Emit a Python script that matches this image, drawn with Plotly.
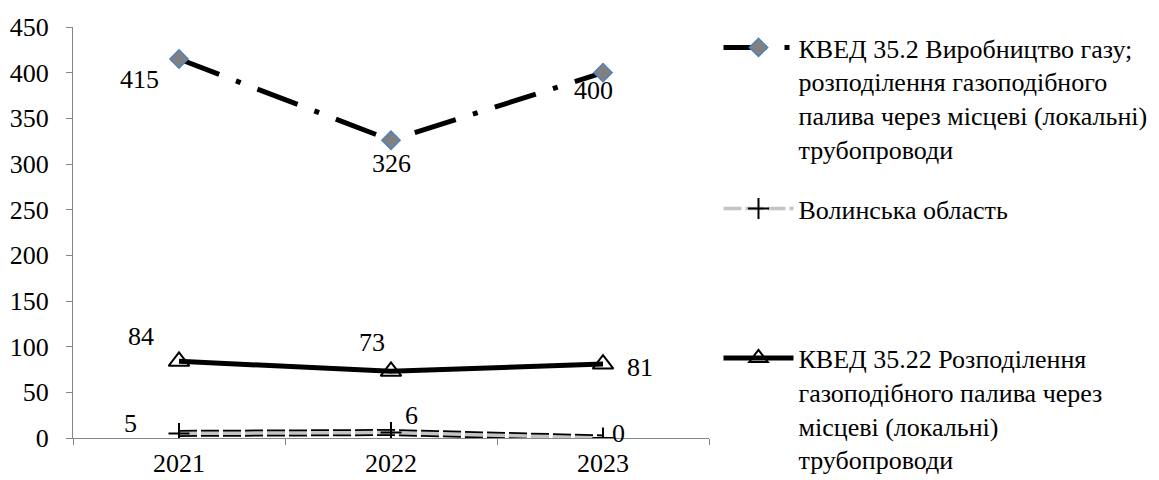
import plotly.graph_objects as go

years = ["2021", "2022", "2023"]
kved_352 = [415, 326, 400]
volyn = [5, 6, 0]
kved_3522 = [84, 73, 81]

name_352 = "КВЕД 35.2 Виробництво газу;<br>розподілення газоподібного<br>палива через місцеві (локальні)<br>трубопроводи"
name_volyn = "Волинська область"
name_3522 = "КВЕД 35.22 Розподілення<br>газоподібного палива через<br>місцеві (локальні)<br>трубопроводи"

y_ticks = [0, 50, 100, 150, 200, 250, 300, 350, 400, 450]

FONT = "Liberation Serif, Times New Roman, serif"
FS = 26

fig = go.Figure()

fig.add_trace(go.Scatter(
    x=years, y=kved_352, name=name_352, mode="lines+markers",
    line=dict(color="black", width=5, dash="43px,18px,5px,18px"),
    marker=dict(symbol="diamond", size=14, color="#808080",
                line=dict(color="#4f81bd", width=1.5)),
    legend="legend",
))

fig.add_trace(go.Scatter(
    x=years, y=volyn, mode="lines", showlegend=False,
    line=dict(color="black", width=7, dash="18px,4px"),
    hoverinfo="skip",
))
fig.add_trace(go.Scatter(
    x=years, y=volyn, name=name_volyn, mode="lines+markers",
    line=dict(color="#c4c4c4", width=3.5, dash="18px,4px"),
    marker=dict(symbol="cross-thin", size=15, color="black",
                line=dict(color="black", width=2)),
    legend="legend2",
))

fig.add_trace(go.Scatter(
    x=years, y=kved_3522, name=name_3522, mode="lines+markers",
    line=dict(color="black", width=5),
    marker=dict(symbol="triangle-up-open", size=18, color="black",
                line=dict(color="black", width=2)),
    legend="legend3",
))

# data labels (category axis: annotation x uses the category index)
label_offsets = {
    "kved_352": [(-40, -21), (0, -23), (-10, -18)],
    "volyn": [(-49, 10), (20, 17), (15, 5)],
    "kved_3522": [(-38, 25), (-19, 29), (37, -3)],
}
series = {"kved_352": kved_352, "volyn": volyn, "kved_3522": kved_3522}
for key, vals in series.items():
    for i, v in enumerate(vals):
        dx, dy = label_offsets[key][i]
        fig.add_annotation(x=i, y=v, xref="x", yref="y", text=str(v),
                           showarrow=False, xshift=dx, yshift=dy,
                           font=dict(family=FONT, size=FS, color="black"))

legend_common = dict(
    font=dict(family=FONT, size=26, color="black"),
    valign="top", xanchor="left", yanchor="top",
    xref="container", yref="container",
    bgcolor="rgba(0,0,0,0)", itemwidth=70, itemclick=False,
)
LX = 718.5 / 1159

fig.update_layout(
    width=1159, height=480,
    margin=dict(l=73, r=450, t=27, b=42),
    paper_bgcolor="white", plot_bgcolor="white",
    font=dict(family=FONT, size=FS, color="black"),
    showlegend=True,
    legend=dict(x=LX, y=0.95, **legend_common),
    legend2=dict(x=LX, y=0.6146, **legend_common),
    legend3=dict(x=LX, y=0.303, **legend_common),
    xaxis=dict(type="category", range=[-0.5, 2.5], showline=True, linecolor="#868686",
               linewidth=1, ticks="outside", tickson="boundaries", ticklen=6,
               tickcolor="#868686", showgrid=False, zeroline=False,
               tickfont=dict(family=FONT, size=FS), ticklabelstandoff=2,
               automargin=False),
    yaxis=dict(range=[0, 450], tickvals=y_ticks, showline=True, linecolor="#868686",
               linewidth=1, ticks="outside", ticklen=6, tickcolor="#868686",
               showgrid=False, zeroline=False, tickfont=dict(family=FONT, size=FS),
               ticklabelstandoff=12, automargin=False),
)

fig.write_html("out.html")
